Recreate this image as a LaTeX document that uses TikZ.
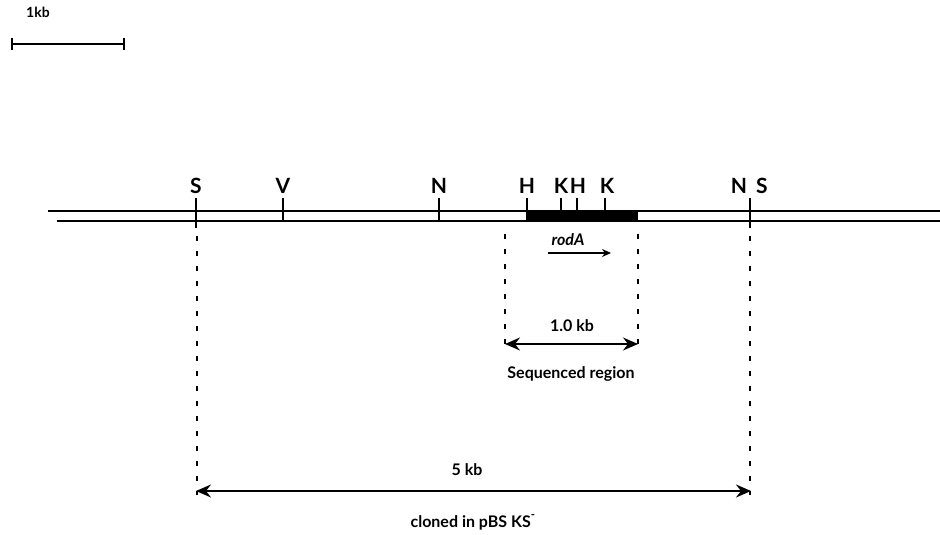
\documentclass[tikz,border=0pt]{standalone}
\usepackage{fontspec}
\setmainfont{Lato}
\usetikzlibrary{arrows.meta}
\begin{document}
\begin{tikzpicture}[x=1pt,y=-1pt,
  lbl/.style={font=\fontsize{21}{24}\selectfont\bfseries, anchor=base},
  txt/.style={font=\fontsize{16}{19}\selectfont\bfseries, anchor=base},
  strand/.style={line width=1.8pt},
  tick/.style={line width=1.8pt},
  guide/.style={line width=1.6pt, dash pattern=on 5pt off 10pt},
  dim/.style={line width=1.5pt, {Stealth[length=15pt,width=13pt,inset=5pt]}-{Stealth[length=15pt,width=13pt,inset=5pt]}}]
\useasboundingbox (0,0) rectangle (940,535);
% scale bar
\node[anchor=base, font=\fontsize{14}{16}\selectfont\bfseries] (kb) at (38,18) {1kb};
\coordinate (sb1) at (12,44); \coordinate (sb2) at (124,44);
\draw[line width=1.5pt] (sb1) -- (sb2);
\draw[line width=1.5pt] (12,38) -- (12,50) (124,38) -- (124,50);
% DNA double line
\coordinate (t1) at (48,211); \coordinate (t2) at (940,211);
\coordinate (b1) at (57,221); \coordinate (b2) at (940,221);
\draw[strand] (t1) -- (t2);
\draw[strand] (b1) -- (b2);
% sequenced region box
\fill (526,210) rectangle (638,222);
% ticks
\draw[tick] (196,198) -- (196,228);
\draw[tick] (283,198) -- (283,221);
\draw[tick] (439,198) -- (439,221);
\draw[tick] (527,198) -- (527,214);
\draw[tick] (561,198) -- (561,214);
\draw[tick] (577,198) -- (577,214);
\draw[tick] (605,198) -- (605,214);
\draw[tick] (750,198) -- (750,228);
% site labels
\node[lbl] (S1) at (196,193) {S};
\node[lbl] (V) at (283,193) {V};
\node[lbl] (N1) at (439,193) {N};
\node[lbl] (H1) at (527,193) {H};
\node[lbl] (K1) at (561,193) {K};
\node[lbl] (H2) at (578,193) {H};
\node[lbl] (K2) at (607,193) {K};
\node[lbl] (N2) at (739,193) {N};
\node[lbl] (S2) at (762,193) {S};
% rodA
\node[anchor=base, font=\fontsize{16}{19}\selectfont\bfseries\itshape] (rodA) at (568,245) {rodA};
\coordinate (ra1) at (548,253); \coordinate (ra2) at (611,253);
\draw[line width=1.4pt, -{Stealth[length=9pt,width=8pt]}] (ra1) -- (ra2);
% guides
\coordinate (g1a) at (505,234); \coordinate (g1b) at (505,350);
\coordinate (g2a) at (638,234); \coordinate (g2b) at (638,350);
\coordinate (g3a) at (197,236); \coordinate (g3b) at (197,495);
\coordinate (g4a) at (750,236); \coordinate (g4b) at (750,495);
\draw[guide] (g1a) -- (g1b);
\draw[guide] (g2a) -- (g2b);
\draw[guide] (g3a) -- (g3b);
\draw[guide] (g4a) -- (g4b);
% 1.0 kb
\node[txt] (kb1) at (572,331) {1.0 kb};
\coordinate (d1a) at (505,344); \coordinate (d1b) at (638,344);
\draw[dim] (d1a) -- (d1b);
\node[txt] (seq) at (571,378) {Sequenced region};
% 5 kb
\node[txt] (kb5) at (467,475) {5 kb};
\coordinate (d2a) at (196,491); \coordinate (d2b) at (751,491);
\draw[dim] (d2a) -- (d2b);
\node[txt] (clo) at (473,527) {cloned in pBS KS\textsuperscript{\raisebox{2pt}{-}}};
\end{tikzpicture}
\end{document}
